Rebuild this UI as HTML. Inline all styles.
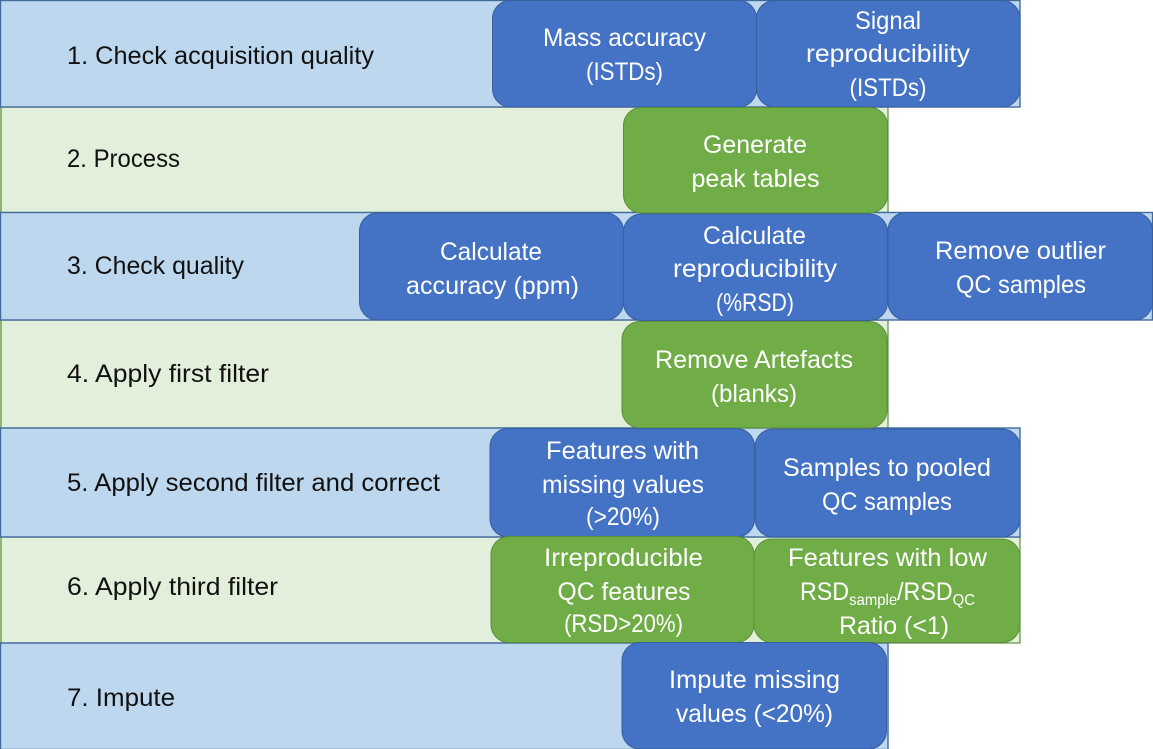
<!DOCTYPE html>
<html>
<head>
<meta charset="utf-8">
<style>
html,body{margin:0;padding:0;background:#fff;width:1153px;height:749px;overflow:hidden}
svg{display:block}
text{font-family:"Liberation Sans",sans-serif;font-size:25px}
.l text{fill:#111}
.w text{fill:#fff;text-anchor:middle}
.b{fill:#bdd7ee;stroke:#41699c;stroke-width:1.4}
.g{fill:#e2efda;stroke:#5f8f45;stroke-width:1.2}
.bb{fill:#4472c4;stroke:#38609f;stroke-width:1}
.gb{fill:#70ad47;stroke:#5a8f3c;stroke-width:1}
</style>
</head>
<body>
<svg width="1153" height="749" viewBox="0 0 1153 749" xmlns="http://www.w3.org/2000/svg">
<rect class="g" x="0.5" y="107" width="887.5" height="105.5"/>
<rect class="g" x="0.5" y="320" width="887.5" height="108"/>
<rect class="g" x="0.5" y="537" width="1019.5" height="106"/>
<rect x="0" y="108" width="2" height="104" fill="#8fb573"/>
<rect x="0" y="321" width="2" height="107" fill="#8fb573"/>
<rect x="0" y="538" width="2" height="105" fill="#8fb573"/>
<rect class="b" x="0.5" y="0.5" width="1019.5" height="106.5"/>
<rect class="b" x="0.5" y="212.5" width="1152" height="107.5"/>
<rect class="b" x="0.5" y="428" width="1019.5" height="109"/>
<rect class="b" x="0.5" y="643" width="887.5" height="106.5"/>

<rect class="bb" x="492.5" y="0.5" width="264" height="106.5" rx="18"/>
<rect class="bb" x="756.5" y="0.5" width="263.5" height="106.5" rx="18"/>
<rect class="gb" x="623.5" y="107.5" width="264" height="105.5" rx="18"/>
<rect class="bb" x="359.5" y="213" width="264" height="107" rx="18"/>
<rect class="bb" x="623.5" y="214" width="264" height="106.5" rx="18"/>
<rect class="bb" x="888" y="212.5" width="264.5" height="107.5" rx="18"/>
<rect class="gb" x="622" y="321.5" width="265" height="106.5" rx="18"/>
<rect class="bb" x="490" y="428.5" width="264.5" height="108.5" rx="18"/>
<rect class="bb" x="755" y="429" width="265" height="108" rx="18"/>
<rect class="gb" x="491" y="536.5" width="263" height="106" rx="18"/>
<rect class="gb" x="754" y="539" width="266" height="103.5" rx="18"/>
<rect class="bb" x="622" y="642.5" width="264.5" height="106.5" rx="18"/>

<g class="l">
<text x="67" y="64" textLength="307" lengthAdjust="spacingAndGlyphs">1. Check acquisition quality</text>
<text x="67" y="167" textLength="113" lengthAdjust="spacingAndGlyphs">2. Process</text>
<text x="67" y="274" textLength="177" lengthAdjust="spacingAndGlyphs">3. Check quality</text>
<text x="67" y="382" textLength="202" lengthAdjust="spacingAndGlyphs">4. Apply first filter</text>
<text x="67" y="491" textLength="373" lengthAdjust="spacingAndGlyphs">5. Apply second filter and correct</text>
<text x="67" y="595" textLength="211" lengthAdjust="spacingAndGlyphs">6. Apply third filter</text>
<text x="67" y="706" textLength="108" lengthAdjust="spacingAndGlyphs">7. Impute</text>
</g>

<g class="w">
<text x="624.5" y="46" textLength="163" lengthAdjust="spacingAndGlyphs">Mass accuracy</text>
<text x="624.5" y="80" textLength="77" lengthAdjust="spacingAndGlyphs">(ISTDs)</text>
<text x="888" y="29" textLength="66" lengthAdjust="spacingAndGlyphs">Signal</text>
<text x="888" y="62" textLength="164" lengthAdjust="spacingAndGlyphs">reproducibility</text>
<text x="888" y="96" textLength="77" lengthAdjust="spacingAndGlyphs">(ISTDs)</text>
<text x="755" y="153" textLength="104" lengthAdjust="spacingAndGlyphs">Generate</text>
<text x="755.5" y="187" textLength="128" lengthAdjust="spacingAndGlyphs">peak tables</text>
<text x="491" y="260" textLength="102" lengthAdjust="spacingAndGlyphs">Calculate</text>
<text x="492.5" y="294" textLength="173" lengthAdjust="spacingAndGlyphs">accuracy (ppm)</text>
<text x="754.5" y="244" textLength="103" lengthAdjust="spacingAndGlyphs">Calculate</text>
<text x="755" y="277" textLength="164" lengthAdjust="spacingAndGlyphs">reproducibility</text>
<text x="755" y="311" textLength="78" lengthAdjust="spacingAndGlyphs">(%RSD)</text>
<text x="1020.5" y="259" textLength="171" lengthAdjust="spacingAndGlyphs">Remove outlier</text>
<text x="1021" y="293" textLength="130" lengthAdjust="spacingAndGlyphs">QC samples</text>
<text x="754" y="368" textLength="198" lengthAdjust="spacingAndGlyphs">Remove Artefacts</text>
<text x="754" y="402" textLength="86" lengthAdjust="spacingAndGlyphs">(blanks)</text>
<text x="622.5" y="459" textLength="153" lengthAdjust="spacingAndGlyphs">Features with</text>
<text x="623" y="493" textLength="162" lengthAdjust="spacingAndGlyphs">missing values</text>
<text x="623" y="525" textLength="74" lengthAdjust="spacingAndGlyphs">(&gt;20%)</text>
<text x="887" y="476" textLength="208" lengthAdjust="spacingAndGlyphs">Samples to pooled</text>
<text x="887" y="510" textLength="130" lengthAdjust="spacingAndGlyphs">QC samples</text>
<text x="623.5" y="566" textLength="159" lengthAdjust="spacingAndGlyphs">Irreproducible</text>
<text x="624" y="600" textLength="133" lengthAdjust="spacingAndGlyphs">QC features</text>
<text x="623.5" y="632" textLength="119" lengthAdjust="spacingAndGlyphs">(RSD&gt;20%)</text>
<text x="887.5" y="566" textLength="199" lengthAdjust="spacingAndGlyphs">Features with low</text>
<text x="887.5" y="600" textLength="175" lengthAdjust="spacingAndGlyphs">RSD<tspan font-size="16" dy="5">sample</tspan><tspan dy="-5">/RSD</tspan><tspan font-size="16" dy="5">QC</tspan></text>
<text x="894" y="634" textLength="110" lengthAdjust="spacingAndGlyphs">Ratio (&lt;1)</text>
<text x="754.5" y="688" textLength="171" lengthAdjust="spacingAndGlyphs">Impute missing</text>
<text x="754.5" y="722" textLength="157" lengthAdjust="spacingAndGlyphs">values (&lt;20%)</text>
</g>
</svg>
</body>
</html>
